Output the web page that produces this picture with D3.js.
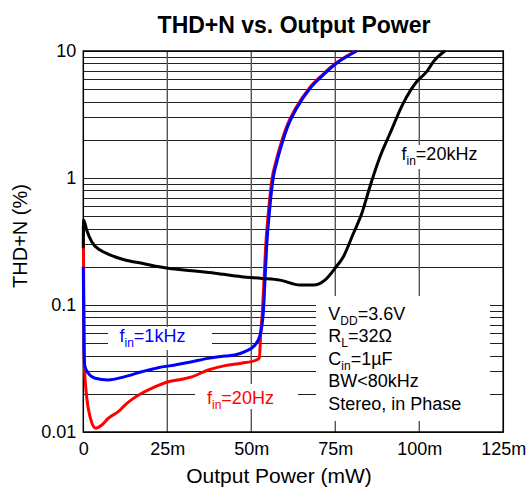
<!DOCTYPE html>
<html>
<head>
<meta charset="utf-8">
<script src="https://cdn.jsdelivr.net/npm/d3@7.9.0/dist/d3.min.js"></script>
<style>
  body { margin: 0; background: #fff; }
  svg { display: block; font-family: "Liberation Sans", Arial, sans-serif; }
</style>
</head>
<body>
<svg id="chart" width="529" height="489"></svg>
<script>
// output power in mW, THD+N in %
const powerTicks = [0, 25, 50, 75, 100, 125];
const powerTickLabels = ['0', '25m', '50m', '75m', '100m', '125m'];
const thdTicks = [0.01, 0.1, 1, 10];
const thdTickLabels = ['0.01', '0.1', '1', '10'];

const power20Hz = [0, 0.3, 1.0, 2.0, 3.7, 5.5, 7.4, 10.4, 12.4, 14.9, 17.4, 21.3, 25.3, 29.3, 32.3, 37.2, 42.2, 47.1, 51.6, 52.4, 52.8, 53.3, 53.8, 54.3, 55.1, 56.2, 57.3, 58.7, 60.7, 63.2, 67.2, 71.1, 75.1, 81.1];
const thd20Hz = [0.42, 0.0347, 0.019, 0.0132, 0.0107, 0.01135, 0.0128, 0.01445, 0.0163, 0.0184, 0.0202, 0.0227, 0.0249, 0.026, 0.0272, 0.0308, 0.0333, 0.0348, 0.0369, 0.0385, 0.06, 0.0886, 0.162, 0.297, 0.543, 0.995, 1.34, 1.82, 2.61, 3.54, 5.08, 6.47, 8.0, 10];

const power1kHz = [0, 0.2, 0.5, 1.5, 3.5, 7.4, 12.4, 17.4, 22.3, 27.3, 32.3, 37.2, 42.2, 45.1, 48.1, 51.1, 52.6, 53.6, 54.1, 54.6, 55.4, 56.5, 57.6, 59.0, 61.0, 63.5, 67.5, 71.4, 75.4, 81.4];
const thd1kHz = [0.2, 0.0443, 0.0327, 0.029, 0.0265, 0.0257, 0.0273, 0.0298, 0.0321, 0.0337, 0.0358, 0.038, 0.0397, 0.0404, 0.0429, 0.0484, 0.058, 0.0886, 0.162, 0.297, 0.543, 0.995, 1.34, 1.82, 2.61, 3.54, 5.08, 6.47, 8.0, 10];

const power20kHz = [0, 0.1, 1.0, 2.5, 5.0, 7.4, 12.4, 17.4, 25.3, 32.3, 39.2, 47.1, 53.1, 58.5, 64.5, 68.5, 71.9, 74.9, 77.4, 80.4, 82.9, 85.3, 88.3, 91.3, 95.2, 99.2, 102.2, 104.2, 107.6];
const thd20kHz = [0.28, 0.467, 0.39, 0.315, 0.271, 0.252, 0.226, 0.213, 0.1945, 0.186, 0.178, 0.167, 0.162, 0.157, 0.1436, 0.1436, 0.157, 0.1945, 0.24, 0.367, 0.527, 0.854, 1.47, 2.25, 3.87, 5.73, 6.87, 8.24, 10];

const conditions = [
  ['V', 'DD', '=3.6V'],
  ['R', 'L', '=32Ω'],
  ['C', 'in', '=1µF'],
  ['BW<80kHz', '', ''],
  ['Stereo, in Phase', '', '']
];

let svg = d3.select('#chart');
let plotLeft = 83.3, plotRight = 503.3, plotTop = 51, plotBottom = 432;

let x = d3.scaleLinear().domain([0, 125]).range([plotLeft, plotRight]);
let y = d3.scaleLog().domain([0.01, 10]).range([plotBottom, plotTop]);

// grid
let minorValues = [];
for (let e = -2; e <= 0; e++) {
  for (let m = 1; m <= 9; m++) minorValues.push(m * Math.pow(10, e));
}
minorValues.push(10);

let grid = svg.append('g');
grid.selectAll('line.h')
  .data(minorValues)
  .join('line')
  .attr('class', 'h')
  .attr('x1', plotLeft).attr('x2', plotRight)
  .attr('y1', (d) => Math.round(y(d)) + 0.5)
  .attr('y2', (d) => Math.round(y(d)) + 0.5)
  .attr('stroke', '#222')
  .attr('stroke-width', 1);

grid.selectAll('line.v')
  .data(powerTicks.slice(1))
  .join('line')
  .attr('class', 'v')
  .attr('x1', (d) => x(d)).attr('x2', (d) => x(d))
  .attr('y1', plotTop).attr('y2', plotBottom)
  .attr('stroke', '#555')
  .attr('stroke-width', 1.4);

// white boxes behind the annotations
const boxes = [
  [399, 145, 82, 24],
  [108, 327, 104, 23],
  [195, 384, 103, 25],
  [316, 296, 174, 125]
];
svg.append('g').selectAll('rect')
  .data(boxes)
  .join('rect')
  .attr('x', (d) => d[0]).attr('y', (d) => d[1])
  .attr('width', (d) => d[2]).attr('height', (d) => d[3])
  .attr('fill', '#fff');

// frame
svg.append('rect')
  .attr('x', plotLeft).attr('y', plotTop)
  .attr('width', plotRight - plotLeft).attr('height', plotBottom - plotTop)
  .attr('fill', 'none')
  .attr('stroke', '#000')
  .attr('stroke-width', 1.5);

// axes
let xAxis = d3.axisBottom(x)
  .tickValues(powerTicks)
  .tickFormat((d, i) => powerTickLabels[i])
  .tickSize(0)
  .tickPadding(10);
let gx = svg.append('g').attr('transform', `translate(0,${plotBottom})`).call(xAxis);
gx.select('.domain').remove();
gx.attr('font-family', null).attr('font-size', null);
gx.selectAll('text').attr('font-size', 18).attr('fill', '#000');

let yAxis = d3.axisLeft(y)
  .tickValues(thdTicks)
  .tickFormat((d, i) => thdTickLabels[i])
  .tickSize(0)
  .tickPadding(7);
let gy = svg.append('g').attr('transform', `translate(${plotLeft},0)`).call(yAxis);
gy.select('.domain').remove();
gy.attr('font-family', null).attr('font-size', null);
gy.selectAll('text').attr('font-size', 18).attr('fill', '#000');

// curves
let line = d3.line()
  .x((d) => x(d[0]))
  .y((d) => y(d[1]))
  .curve(d3.curveMonotoneX);

const series = [
  [power20Hz, thd20Hz, '#ff0000'],
  [power1kHz, thd1kHz, '#0000ff'],
  [power20kHz, thd20kHz, '#000000']
];
series.forEach(([px, py, color]) => {
  svg.append('path')
    .datum(px.map((p, i) => [p, py[i]]))
    .attr('d', line)
    .attr('fill', 'none')
    .attr('stroke', color)
    .attr('stroke-width', 3)
    .attr('stroke-linejoin', 'round');
});

// labels
function finLabel(tx, ty, rest, color) {
  let t = svg.append('text')
    .attr('x', tx).attr('y', ty)
    .attr('font-size', 18)
    .attr('fill', color);
  t.append('tspan').text('f');
  t.append('tspan').attr('font-size', 12).attr('dy', 5).text('in');
  t.append('tspan').attr('dy', -5).text(rest);
}
finLabel(401.5, 160, '=20kHz', '#000');
finLabel(119.5, 342, '=1kHz', '#0000ff');
finLabel(207, 404, '=20Hz', '#ff0000');

conditions.forEach((c, i) => {
  let t = svg.append('text')
    .attr('x', 328.3)
    .attr('y', 319.5 + i * 22.6)
    .attr('font-size', 18)
    .attr('fill', '#000');
  t.append('tspan').text(c[0]);
  if (c[1]) {
    t.append('tspan').attr('font-size', 12).attr('dy', 5).text(c[1]);
    t.append('tspan').attr('dy', -5).text(c[2]);
  }
});

svg.append('text')
  .attr('x', 294).attr('y', 33)
  .attr('text-anchor', 'middle')
  .attr('font-size', 23)
  .attr('font-weight', 'bold')
  .text('THD+N vs. Output Power');

svg.append('text')
  .attr('x', 279).attr('y', 483)
  .attr('text-anchor', 'middle')
  .attr('font-size', 21)
  .text('Output Power (mW)');

svg.append('text')
  .attr('transform', 'translate(26.5,236) rotate(-90)')
  .attr('text-anchor', 'middle')
  .attr('font-size', 20)
  .text('THD+N (%)');
</script>
</body>
</html>
